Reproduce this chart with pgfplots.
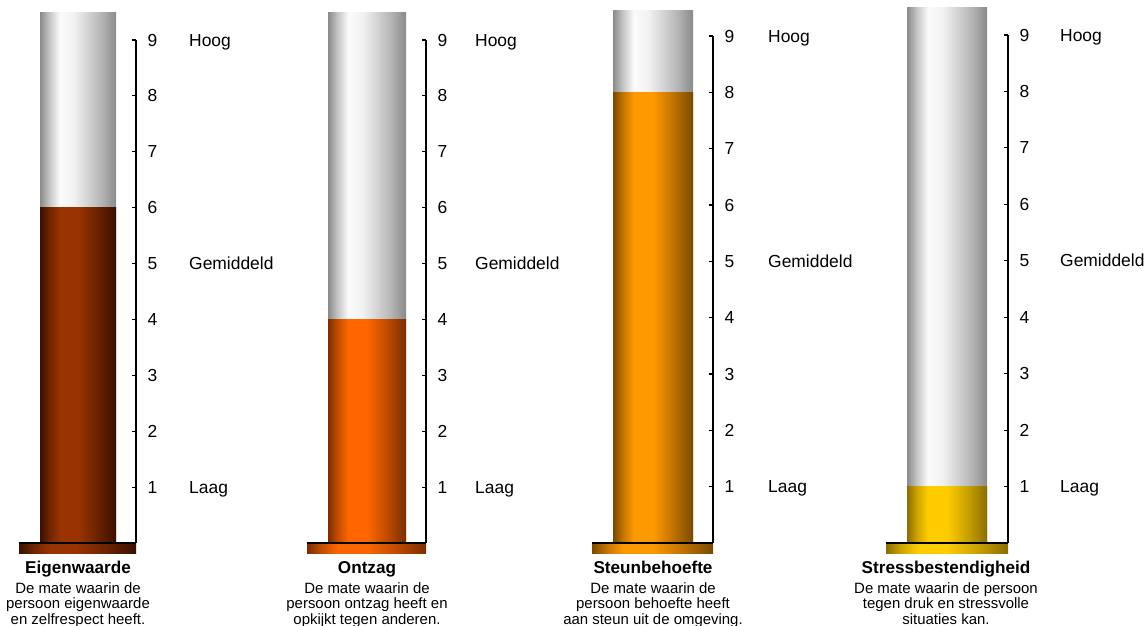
\documentclass[border=0pt]{standalone}
\usepackage{pgfplots}
\pgfplotsset{compat=1.18}
\usepackage{fontspec}
\setmainfont{Liberation Sans}

\definecolor{tubeE}{HTML}{8A8A8A}
\definecolor{tubeA}{HTML}{C4C4C4}
\definecolor{tubeW}{HTML}{FBFBFB}
\definecolor{tubeV}{HTML}{F2F2F2}
\definecolor{tubeR}{HTML}{D8D8D8}
\definecolor{tubeS}{HTML}{B6B6B6}

\definecolor{aC}{HTML}{993300}\definecolor{aM}{HTML}{6E2400}\definecolor{aE}{HTML}{3A1000}
\definecolor{bC}{HTML}{FF6600}\definecolor{bM}{HTML}{C24D00}\definecolor{bE}{HTML}{7A2E00}
\definecolor{cC}{HTML}{FF9900}\definecolor{cM}{HTML}{C27400}\definecolor{cE}{HTML}{7A4A00}
\definecolor{dC}{HTML}{FFCC00}\definecolor{dM}{HTML}{CCA300}\definecolor{dE}{HTML}{8A6E00}

\pgfdeclarehorizontalshading{tube}{100bp}{color(0bp)=(tubeE); color(25bp)=(tubeE); color(31bp)=(tubeA); color(38bp)=(tubeW); color(47bp)=(tubeV); color(55bp)=(tubeR); color(65bp)=(tubeS); color(75bp)=(tubeE); color(100bp)=(tubeE)}
\pgfdeclarehorizontalshading{sa}{100bp}{color(0bp)=(aE); color(25bp)=(aE); color(31bp)=(aM); color(38bp)=(aC); color(50bp)=(aC); color(62bp)=(aM); color(75bp)=(aE); color(100bp)=(aE)}
\pgfdeclarehorizontalshading{sb}{100bp}{color(0bp)=(bE); color(25bp)=(bE); color(31bp)=(bM); color(38bp)=(bC); color(50bp)=(bC); color(62bp)=(bM); color(75bp)=(bE); color(100bp)=(bE)}
\pgfdeclarehorizontalshading{sc}{100bp}{color(0bp)=(cE); color(25bp)=(cE); color(31bp)=(cM); color(38bp)=(cC); color(50bp)=(cC); color(62bp)=(cM); color(75bp)=(cE); color(100bp)=(cE)}
\pgfdeclarehorizontalshading{sd}{100bp}{color(0bp)=(dE); color(25bp)=(dE); color(31bp)=(dM); color(38bp)=(dC); color(50bp)=(dC); color(62bp)=(dM); color(75bp)=(dE); color(100bp)=(dE)}

\pgfplotsset{
  gauge/.style={
    scale only axis, anchor=south west,
    xmin=0, ymin=0, ymax=9,
    axis x line=bottom, axis y line=right,
    axis line style={-, line width=1.4bp, black},
    xtick=\empty, ytick={1,2,...,9},
    tick align=inside, major tick length=4bp,
    tick style={line width=1.1bp, black},
    yticklabel style={font=\fontsize{17.5}{20}\selectfont, xshift=8bp},
    /pgf/number format/assume math mode=true,
    clip=false, axis on top,
  },
}
\tikzset{
  lvl/.style={anchor=base west, yshift=-6.2bp, font=\fontsize{17.5}{20}\selectfont, inner sep=0pt},
  ttl/.style={anchor=base, inner sep=0pt, font=\fontsize{17.2}{19}\selectfont\bfseries},
  dsc/.style={anchor=base, inner sep=0pt, font=\fontsize{15}{15.5}\selectfont},
}

\begin{document}
\begin{tikzpicture}
\path[use as bounding box] (0,0) rectangle (1148bp,-626bp);

% ---------- Eigenwaarde ----------
\begin{axis}[gauge, at={(19bp,-543bp)}, width=117bp, height=503bp, xmax=117]
\addplot[draw=none, shading=tube] coordinates {(21,9.5) (97,9.5)} \closedcycle;
\addplot[draw=none, shading=sa] coordinates {(21,6) (97,6)} \closedcycle;
\addplot[draw=none, shading=sa] coordinates {(0,0) (117,0) (117,-0.18) (0,-0.18)} -- cycle;
\node[lvl, xshift=53bp] at (axis cs:117,9) {Hoog};
\node[lvl, xshift=53bp] at (axis cs:117,5) {Gemiddeld};
\node[lvl, xshift=53bp] at (axis cs:117,1) {Laag};
\end{axis}

% ---------- Ontzag ----------
\begin{axis}[gauge, at={(307bp,-543bp)}, width=119bp, height=503bp, xmax=119]
\addplot[draw=none, shading=tube] coordinates {(21,9.5) (99,9.5)} \closedcycle;
\addplot[draw=none, shading=sb] coordinates {(21,4) (99,4)} \closedcycle;
\addplot[draw=none, shading=sb] coordinates {(0,0) (119,0) (119,-0.18) (0,-0.18)} -- cycle;
\node[lvl, xshift=49bp] at (axis cs:119,9) {Hoog};
\node[lvl, xshift=49bp] at (axis cs:119,5) {Gemiddeld};
\node[lvl, xshift=49bp] at (axis cs:119,1) {Laag};
\end{axis}

% ---------- Steunbehoefte ----------
\begin{axis}[gauge, at={(592bp,-543bp)}, width=121bp, height=507bp, xmax=121]
\addplot[draw=none, shading=tube] coordinates {(21,9.46) (101,9.46)} \closedcycle;
\addplot[draw=none, shading=sc] coordinates {(21,8) (101,8)} \closedcycle;
\addplot[draw=none, shading=sc] coordinates {(0,0) (121,0) (121,-0.18) (0,-0.18)} -- cycle;
\node[lvl, xshift=55bp] at (axis cs:121,9) {Hoog};
\node[lvl, xshift=55bp] at (axis cs:121,5) {Gemiddeld};
\node[lvl, xshift=55bp] at (axis cs:121,1) {Laag};
\end{axis}

% ---------- Stressbestendigheid ----------
\begin{axis}[gauge, at={(886bp,-543bp)}, width=122bp, height=508bp, xmax=122]
\addplot[draw=none, shading=tube] coordinates {(21,9.48) (101,9.48)} \closedcycle;
\addplot[draw=none, shading=sd] coordinates {(21,1) (101,1)} \closedcycle;
\addplot[draw=none, shading=sd] coordinates {(0,0) (122,0) (122,-0.18) (0,-0.18)} -- cycle;
\node[lvl, xshift=52bp] at (axis cs:122,9) {Hoog};
\node[lvl, xshift=52bp] at (axis cs:122,5) {Gemiddeld};
\node[lvl, xshift=52bp] at (axis cs:122,1) {Laag};
\end{axis}

% ---------- titles and descriptions ----------
\node[ttl] at (78bp,-573bp) {Eigenwaarde};
\node[dsc] at (78bp,-593bp) {De mate waarin de};
\node[dsc] at (78bp,-608.5bp) {persoon eigenwaarde};
\node[dsc] at (78bp,-624bp) {en zelfrespect heeft.};

\node[ttl] at (367bp,-573bp) {Ontzag};
\node[dsc] at (367bp,-593bp) {De mate waarin de};
\node[dsc] at (367bp,-608.5bp) {persoon ontzag heeft en};
\node[dsc] at (367bp,-624bp) {opkijkt tegen anderen.};

\node[ttl] at (653bp,-573bp) {Steunbehoefte};
\node[dsc] at (653bp,-593bp) {De mate waarin de};
\node[dsc] at (653bp,-608.5bp) {persoon behoefte heeft};
\node[dsc] at (653bp,-624bp) {aan steun uit de omgeving.};

\node[ttl] at (946bp,-573bp) {Stressbestendigheid};
\node[dsc] at (946bp,-593bp) {De mate waarin de persoon};
\node[dsc] at (946bp,-608.5bp) {tegen druk en stressvolle};
\node[dsc] at (946bp,-624bp) {situaties kan.};
\end{tikzpicture}
\end{document}
